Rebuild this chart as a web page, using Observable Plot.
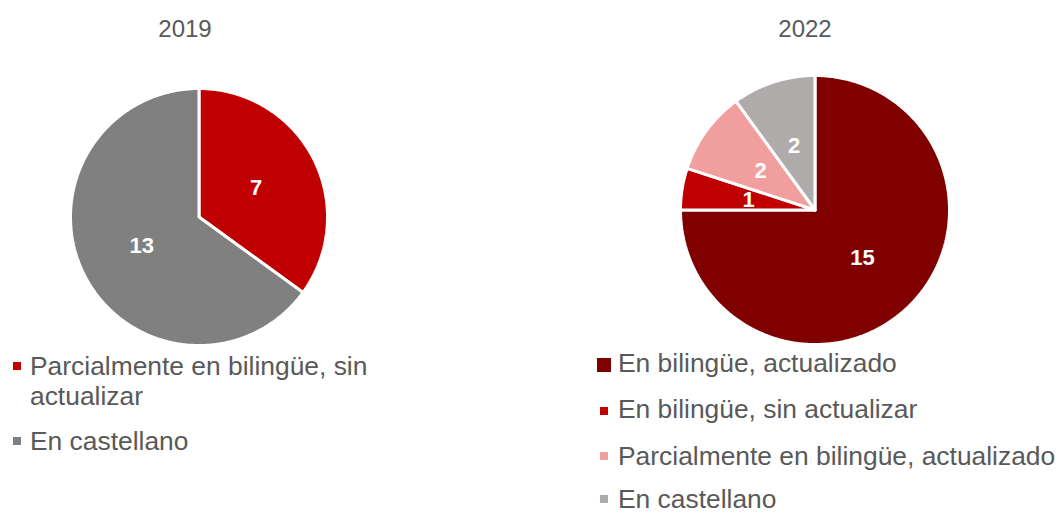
<!DOCTYPE html>
<html>
<head>
<meta charset="utf-8">
<script src="https://cdn.jsdelivr.net/npm/d3@7"></script>
<script src="https://cdn.jsdelivr.net/npm/@observablehq/plot@0.6"></script>
<style>
  html, body { margin: 0; padding: 0; background: #ffffff; overflow: hidden; }
  #root { position: relative; width: 1061px; height: 514px; overflow: hidden; font-family: "Liberation Sans", Arial, sans-serif; color: #595959; }
  .title { position: absolute; font-size: 24px; line-height: 24px; width: 120px; text-align: center; }
  .leg { position: absolute; font-size: 26.4px; line-height: 24px; white-space: normal; }
  .leg.wrap { line-height: 30px; }
  .sw { position: absolute; }
  .pie { position: absolute; }
</style>
</head>
<body>
<div id="root"></div>
<script>
// ---- Data ----
const years = ["2019", "2022"];
const cats2019 = ["Parcialmente en bilingüe, sin actualizar", "En castellano"];
const vals2019 = [7, 13];
const cats2022 = ["En bilingüe, actualizado", "En bilingüe, sin actualizar", "Parcialmente en bilingüe, actualizado", "En castellano"];
const vals2022 = [15, 1, 2, 2];
const colors2019 = ["#C00000", "#808080"];
const colors2022 = ["#800000", "#C00000", "#F19E9E", "#AFABAB"];

const root = document.getElementById("root");

function pieChart(cats, vals, colors, r) {
  const R = r + 1.5;
  const arcs = d3.pie().sort(null).value(d => d)(vals);
  const pts = [];
  arcs.forEach((a, i) => {
    const n = Math.max(2, Math.ceil((a.endAngle - a.startAngle) / 0.01));
    pts.push({cat: cats[i], x: 0, y: 0});
    for (let k = 0; k <= n; k++) {
      const t = a.startAngle + (a.endAngle - a.startAngle) * k / n;
      pts.push({cat: cats[i], x: Math.sin(t), y: Math.cos(t)});
    }
    pts.push({cat: cats[i], x: 0, y: 0});
  });
  const labels = arcs.map((a, i) => {
    const m = (a.startAngle + a.endAngle) / 2;
    return {cat: cats[i], v: vals[i], x: 0.5 * Math.sin(m), y: 0.5 * Math.cos(m)};
  });
  const size = 2 * R + 4;
  return Plot.plot({
    width: size,
    height: size,
    margin: 2,
    x: {domain: [-1, 1], axis: null},
    y: {domain: [-1, 1], axis: null},
    color: {domain: cats, range: colors},
    style: {fontFamily: "'Liberation Sans', Arial, sans-serif", background: "transparent", overflow: "visible"},
    marks: [
      Plot.line(pts, {x: "x", y: "y", z: "cat", fill: "cat", stroke: "white", strokeWidth: 3, strokeLinejoin: "miter", strokeOpacity: 1}),
      Plot.text(labels, {x: "x", y: "y", text: d => String(d.v), fill: "white", fontWeight: "bold", fontSize: 22})
    ]
  });
}

function place(el, left, top, cls) {
  const d = document.createElement("div");
  d.className = cls;
  d.style.left = left + "px";
  d.style.top = top + "px";
  d.appendChild(el);
  root.appendChild(d);
  return d;
}

// Pies
const r1 = 127, r2 = 133;
const p1 = pieChart(cats2019, vals2019, colors2019, r1);
const p2 = pieChart(cats2022, vals2022, colors2022, r2);
place(p1, 198 - (r1 + 1.5) - 2, 216 - (r1 + 1.5) - 2, "pie");
place(p2, 814 - (r2 + 1.5) - 2, 209 - (r2 + 1.5) - 2, "pie");

// Titles
function title(text, cx, top) {
  const d = document.createElement("div");
  d.className = "title";
  d.textContent = text;
  d.style.left = (cx - 60) + "px";
  d.style.top = top + "px";
  root.appendChild(d);
}
title(years[0], 185, 17);
title(years[1], 805, 17);

// Legends
function legendItem(text, color, swLeft, swTop, sw, textLeft, textTop, width) {
  const s = document.createElement("div");
  s.className = "sw";
  s.style.left = swLeft + "px";
  s.style.top = swTop + "px";
  s.style.width = sw + "px";
  s.style.height = sw + "px";
  s.style.background = color;
  root.appendChild(s);
  const t = document.createElement("div");
  t.className = width ? "leg wrap" : "leg";
  t.style.left = textLeft + "px";
  t.style.top = textTop + "px";
  if (width) t.style.width = width + "px";
  t.textContent = text;
  root.appendChild(t);
}
legendItem(cats2019[0], colors2019[0], 13, 362, 8, 30, 351, 350);
legendItem(cats2019[1], colors2019[1], 13, 437, 8, 30, 429);

legendItem(cats2022[0], colors2022[0], 597, 358, 14, 618, 351);
legendItem(cats2022[1], colors2022[1], 600, 407, 8, 618, 397);
legendItem(cats2022[2], colors2022[2], 600, 452, 8, 618, 444);
legendItem(cats2022[3], colors2022[3], 600, 495, 8, 618, 487);
</script>
</body>
</html>
